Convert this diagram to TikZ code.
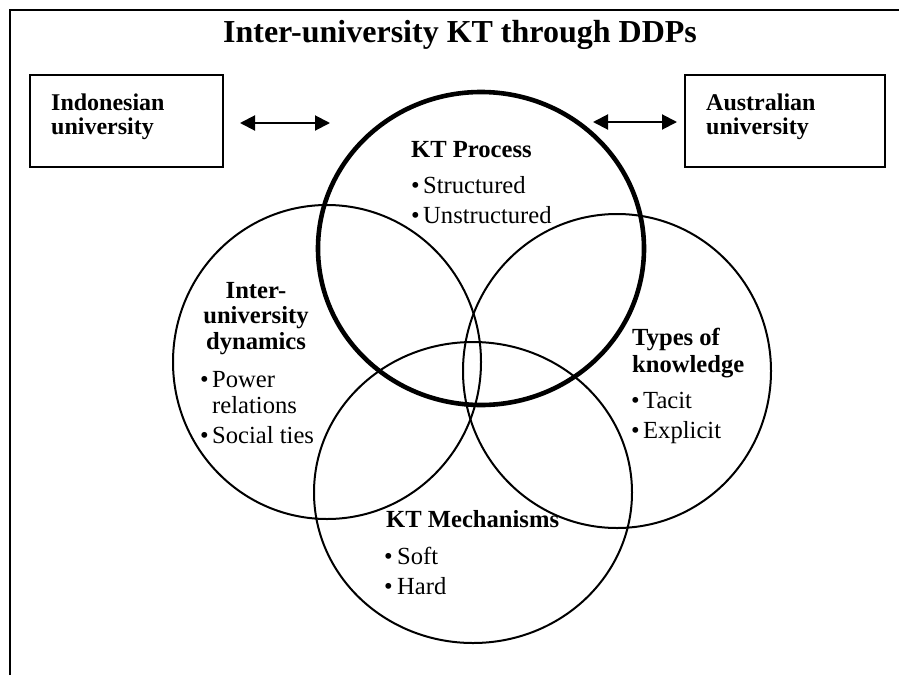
\documentclass[tikz,border=0pt]{standalone}
\usepackage{fontspec}
\setmainfont{Liberation Serif}
\usetikzlibrary{arrows.meta,positioning}
\tikzset{
	ring/.style={line width=2pt},
	ringthick/.style={line width=4.6pt},
	unibox/.style={draw,line width=1.6pt,minimum width=193pt,minimum height=92pt,inner sep=0pt},
	head/.style={font=\bfseries\fontsize{24.6}{26}\selectfont,inner sep=0pt,anchor=base west},
	txt/.style={font=\fontsize{24.6}{26}\selectfont,inner sep=0pt,anchor=base west},
	boxtxt/.style={font=\bfseries\fontsize{24}{24}\selectfont,inner sep=0pt,anchor=base west},
	link/.style={line width=2pt,{Triangle[length=15pt,width=15pt]}-{Triangle[length=15pt,width=15pt]}},
}

\begin{document}
\begin{tikzpicture}[x=1pt,y=-1pt]
	\useasboundingbox (0,0) rectangle (899,675);
	% frame, only top and left edge show
	\draw[line width=2pt] (10,675) -- (10,10) -- (899,10);
	
	% title
	\node[font=\bfseries\fontsize{32}{34}\selectfont,inner sep=0pt,anchor=base] (title) at (460,42) {Inter-university KT through DDPs};
	
	% the two universities
	\node[unibox] (indo) at (126.5,121) {};
	\node[unibox,minimum width=200pt] (aus) at (785,121) {};
	\node[boxtxt] (indoA) at (51,110) {Indonesian};
	\node[boxtxt] (indoB) at (51,134) {university};
	\node[boxtxt] (ausA) at (706,110) {Australian};
	\node[boxtxt] (ausB) at (706,134) {university};
	
	% arrows between the boxes and the circles
	\coordinate (arrLa) at (240,123);
	\coordinate (arrLb) at (330,123);
	\coordinate (arrRa) at (593,122);
	\coordinate (arrRb) at (677,122);
	\draw[link] (arrLa) -- (arrLb);
	\draw[link] (arrRa) -- (arrRb);
	
	% the four circles
	\draw[ring] (327,362) ellipse [x radius=154pt, y radius=157pt];
	\draw[ring] (617,371) ellipse [x radius=154pt, y radius=157pt];
	\draw[ring] (473,492.5) ellipse [x radius=159pt, y radius=150.5pt];
	\draw[ringthick] (481,248.5) ellipse [x radius=163pt, y radius=156.5pt];
	
	% KT process
	\node[head] (procH) at (411,157) {KT Process};
	\node[txt] (procBa) at (411,193) {\textbullet};
	\node[txt] (procA) at (423,193) {Structured};
	\node[txt] (procBb) at (411,223) {\textbullet};
	\node[txt] (procB) at (423,223) {Unstructured};
	
	% inter-university dynamics
	\node[head,anchor=base] (dynA) at (256,298) {Inter-};
	\node[head,anchor=base] (dynB) at (256,323) {university};
	\node[head,anchor=base] (dynC) at (256,349) {dynamics};
	\node[txt] (dynBa) at (200,387) {\textbullet};
	\node[txt] (dynD) at (212,387) {Power};
	\node[txt] (dynE) at (212,413) {relations};
	\node[txt] (dynBb) at (200,443) {\textbullet};
	\node[txt] (dynF) at (212,443) {Social ties};
	
	% types of knowledge
	\node[head] (typA) at (632,345) {Types of};
	\node[head] (typB) at (632,372) {knowledge};
	\node[txt] (typBa) at (631,408) {\textbullet};
	\node[txt] (typC) at (643,408) {Tacit};
	\node[txt] (typBb) at (631,438) {\textbullet};
	\node[txt] (typD) at (643,438) {Explicit};
	
	% KT mechanisms
	\node[head] (mechH) at (386,527) {KT Mechanisms};
	\node[txt] (mechBa) at (384,564) {\textbullet};
	\node[txt] (mechA) at (397,564) {Soft};
	\node[txt] (mechBb) at (384,594) {\textbullet};
	\node[txt] (mechB) at (397,594) {Hard};
\end{tikzpicture}
\end{document}
